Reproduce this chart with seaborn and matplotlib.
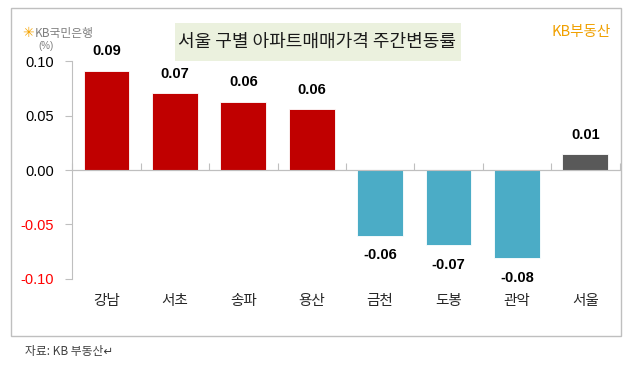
import matplotlib
matplotlib.use('Agg')
import matplotlib.pyplot as plt
from matplotlib.patches import Rectangle
import seaborn as sns

# data
districts = ['강남', '서초', '송파', '용산', '금천', '도봉', '관악', '서울']
changes = [0.0914, 0.0706, 0.0629, 0.0559, -0.0605, -0.0694, -0.0813, 0.0147]
value_labels = ['0.09', '0.07', '0.06', '0.06', '-0.06', '-0.07', '-0.08', '0.01']
bar_colors = ['#C00000'] * 4 + ['#4BACC6'] * 3 + ['#595959']
ytick_values = [0.10, 0.05, 0.00, -0.05, -0.10]
ytick_labels = ['0.10', '0.05', '0.00', '-0.05', '-0.10']

sns.set_style('white')
plt.rcParams['font.family'] = ['Noto Sans CJK KR', 'DejaVu Sans']

fig = plt.figure(figsize=(6.23, 3.67), dpi=100)
W, H = 623, 367

# outer frame
fig.patches.append(Rectangle((11 / W, 1 - 336 / H), 610 / W, 328 / H, transform=fig.transFigure,
                             fill=False, edgecolor='#BFBFBF', linewidth=1.0))

ax = fig.add_axes([72.3 / W, 1 - 278.6 / H, 547.2 / W, 217.2 / H])
sns.barplot(x=districts, y=changes, hue=districts, palette=bar_colors, width=0.67,
            legend=False, ax=ax, edgecolor='white', linewidth=0.6, saturation=1, zorder=2)
ax.set_ylim(-0.1, 0.1)
ax.set_xlim(-0.5, len(districts) - 0.5)

# y axis
ax.set_yticks(ytick_values)
ax.set_yticklabels(ytick_labels, family='Liberation Sans', fontsize=10.5)
for lbl, v in zip(ax.get_yticklabels(), ytick_values):
    lbl.set_color('#FF0000' if v < 0 else 'black')
ax.tick_params(axis='y', length=5, width=0.8, color='#BFBFBF', left=True, pad=8)

# x labels at the bottom, no ticks
ax.set_xticks(range(len(districts)))
ax.set_xticklabels(districts, fontsize=10.5)
ax.tick_params(axis='x', length=0, pad=11)
ax.set_xlabel('')
ax.set_ylabel('')

for side in ['top', 'right', 'bottom']:
    ax.spines[side].set_visible(False)
ax.spines['left'].set_color('#BFBFBF')
ax.spines['left'].set_linewidth(0.8)

# zero line with category boundary ticks
ax.axhline(0, color='#BFBFBF', linewidth=0.8, zorder=3)
zero = ax.secondary_xaxis(0.5)
zero.set_xticks([i - 0.5 for i in range(len(districts) + 1)])
zero.set_xticklabels([])
zero.tick_params(axis='x', length=5, width=0.8, colors='#BFBFBF')
for sp in zero.spines.values():
    sp.set_color('#BFBFBF')
    sp.set_linewidth(0.8)

# value labels
for i, (v, t) in enumerate(zip(changes, value_labels)):
    ax.annotate(t, (i, v), xytext=(0, 9 if v > 0 else -9), textcoords='offset points',
                ha='center', va='bottom' if v > 0 else 'top', fontsize=10.5,
                fontweight='bold', family='Liberation Sans', color='black')

# (%) unit
fig.text(46 / W, 1 - 46 / H, '(%)', fontsize=7, color='#7F7F7F', ha='center', va='center',
         family='Liberation Sans')

# title box
fig.patches.append(Rectangle((174.5 / W, 1 - 61 / H), 286.5 / W, 38.5 / H, transform=fig.transFigure,
                             facecolor='#EBF1DE', edgecolor='none'))
fig.text(317.5 / W, 1 - 42 / H, '서울 구별 아파트매매가격 주간변동률', fontsize=13,
         ha='center', va='center', color='#1A1A1A')

# logos
fig.text(22 / W, 1 - 33 / H, '✳', fontsize=10, color='#F5A300', ha='left', va='center',
         family='DejaVu Sans')
fig.text(35 / W, 1 - 33 / H, 'KB국민은행', fontsize=8.5, color='#7F7F7F', ha='left', va='center')
fig.text(611 / W, 1 - 32 / H, 'KB부동산', fontsize=10.5, color='#F0A000', ha='right', va='center')

# source
fig.text(25 / W, 1 - 352 / H, '자료: KB 부동산↵', fontsize=8.5, color='#404040', ha='left', va='center',
         family=['Noto Sans CJK KR', 'DejaVu Sans'])

fig.savefig('out.png', dpi=100)
